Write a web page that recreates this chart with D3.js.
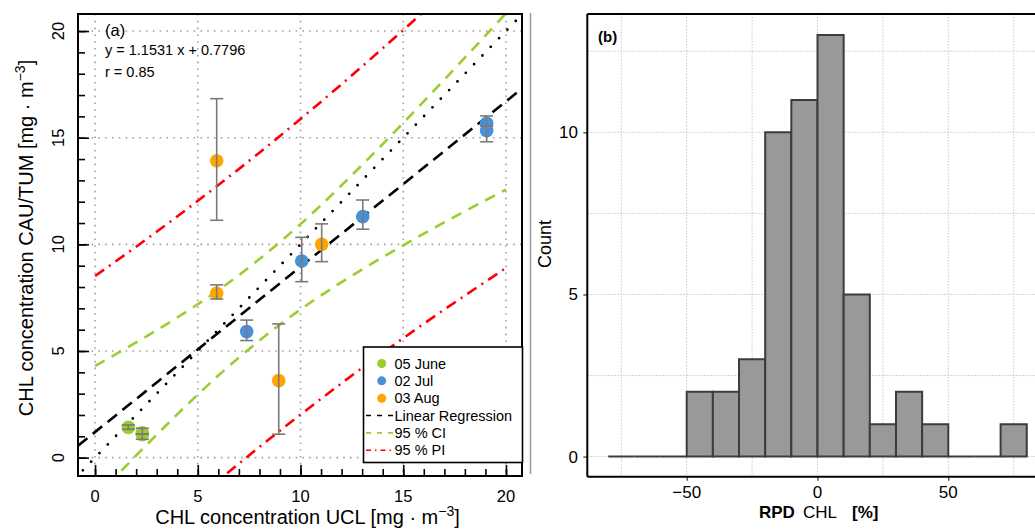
<!DOCTYPE html>
<html><head><meta charset="utf-8">
<script src="https://cdn.jsdelivr.net/npm/d3@7"></script>
<style>
body{margin:0;background:#fff;}
svg{display:block;font-family:"Liberation Sans",Arial,Helvetica,sans-serif;}
</style>
</head><body>
<svg id="c" width="1035" height="530"></svg>
<script>
// ---------- Panel (a) data ----------
const seriesNames = ["05 June", "02 Jul", "03 Aug"];
const seriesColors = ["#9acd32", "#4a90d9", "#ffa500"];
const juneX  = [1.62, 2.30, 2.30];
const juneY  = [1.42, 1.16, 1.08];
const juneLo = [1.33, 1.11, 0.86];
const juneHi = [1.53, 1.38, 1.11];
const julX  = [7.38, 10.06, 13.03, 19.06, 19.06];
const julY  = [5.91, 9.22, 11.30, 15.68, 15.33];
const julLo = [5.49, 8.25, 10.71, 15.55, 14.81];
const julHi = [6.45, 10.33, 12.08, 16.02, 15.55];
const augX  = [5.92, 5.92, 11.03, 8.94];
const augY  = [13.92, 7.71, 10.00, 3.61];
const augLo = [11.13, 7.44, 9.19, 1.10];
const augHi = [16.83, 8.10, 10.96, 6.27];
const regSlope = 0.775, regIntercept = 1.2;        // drawn regression line
const oneToOne = [[-1, -1], [21, 21]];
const bandX   = [0, 2, 4, 6, 8, 10, 12, 14, 16, 18, 20];
const ciUpper = [4.30, 5.40, 6.57, 7.85, 9.31, 10.95, 12.77, 14.70, 16.70, 18.75, 20.83];
const ciLower = [-1.90, 0.10, 2.03, 3.85, 5.49, 6.95, 8.23, 9.40, 10.50, 11.55, 12.57];
const piUpper = [8.52, 9.89, 11.31, 12.78, 14.30, 15.88, 17.51, 19.19, 20.92, 22.70, 24.51];
const piLower = [-6.12, -4.39, -2.71, -1.08, 0.50, 2.02, 3.49, 4.91, 6.28, 7.60, 8.89];
const xTicksA = [0, 5, 10, 15, 20];
const yTicksA = [0, 5, 10, 15, 20];
const minorTicksA = d3.range(0, 21, 1);
const eqText = "y = 1.1531 x + 0.7796";
const rText = "r = 0.85";
const legendLines = ["Linear Regression", "95 % CI", "95 % PI"];

// ---------- Panel (b) data ----------
const binStart = [-80, -70, -60, -50, -40, -30, -20, -10, 0, 10, 20, 30, 40, 50, 60, 70];
const counts   = [0, 0, 0, 2, 2, 3, 10, 11, 13, 5, 1, 2, 1, 0, 0, 1];
const binWidth = 10;
const xTicksB = [-50, 0, 50];
const yTicksB = [0, 5, 10];
const xGridB = [-75, -50, -25, 0, 25, 50, 75];
const yGridB = [0, 2.5, 5, 7.5, 10, 12.5];

const svg = d3.select("#c");

// ================= Panel (a) =================
const A = {l: 78, r: 522, t: 14, b: 476};
const xa = d3.scaleLinear().domain([-0.83, 20.78]).range([A.l, A.r]);
const ya = d3.scaleLinear().domain([-0.86, 20.80]).range([A.b, A.t]);

svg.append("defs").append("clipPath").attr("id", "clipA")
  .append("rect").attr("x", A.l).attr("y", A.t).attr("width", A.r - A.l).attr("height", A.b - A.t);

const ga = svg.append("g");
// grid
ga.append("g").selectAll("line").data(xTicksA).join("line")
  .attr("x1", d => xa(d)).attr("x2", d => xa(d)).attr("y1", A.t).attr("y2", A.b)
  .attr("stroke", "#a0a0a0").attr("stroke-width", 1.6).attr("stroke-dasharray", "1.6,5.2");
ga.append("g").selectAll("line").data(yTicksA).join("line")
  .attr("y1", d => ya(d)).attr("y2", d => ya(d)).attr("x1", A.l).attr("x2", A.r)
  .attr("stroke", "#a0a0a0").attr("stroke-width", 1.6).attr("stroke-dasharray", "1.6,5.2");

const plotA = ga.append("g").attr("clip-path", "url(#clipA)");
const lineA = d3.line().x(d => xa(d[0])).y(d => ya(d[1])).curve(d3.curveMonotoneX);

function band(arr) { return bandX.map((x, i) => [x, arr[i]]); }
// PI
[piUpper, piLower].forEach(a => plotA.append("path").datum(band(a)).attr("d", lineA)
  .attr("fill", "none").attr("stroke", "#ff0000").attr("stroke-width", 2.6)
  .attr("stroke-dasharray", "11,6,2,6"));
// CI
[ciUpper, ciLower].forEach(a => plotA.append("path").datum(band(a)).attr("d", lineA)
  .attr("fill", "none").attr("stroke", "#9acd32").attr("stroke-width", 2.6)
  .attr("stroke-dasharray", "11,8"));
// regression
const xd = xa.domain();
plotA.append("path").datum([[xd[0], regIntercept + regSlope * xd[0]], [xd[1], regIntercept + regSlope * xd[1]]])
  .attr("d", d3.line().x(d => xa(d[0])).y(d => ya(d[1])))
  .attr("fill", "none").attr("stroke", "#000").attr("stroke-width", 2.6).attr("stroke-dasharray", "12,7");
// 1:1
plotA.append("path").datum(oneToOne)
  .attr("d", d3.line().x(d => xa(d[0])).y(d => ya(d[1])))
  .attr("fill", "none").attr("stroke", "#000").attr("stroke-width", 2.8)
  .attr("stroke-linecap", "round").attr("stroke-dasharray", "0,12");

// points + error bars
const groups = [
  {x: juneX, y: juneY, lo: juneLo, hi: juneHi, c: seriesColors[0]},
  {x: julX, y: julY, lo: julLo, hi: julHi, c: seriesColors[1]},
  {x: augX, y: augY, lo: augLo, hi: augHi, c: seriesColors[2]}
];
groups.forEach(g => {
  const pts = g.x.map((x, i) => ({x, y: g.y[i], lo: g.lo[i], hi: g.hi[i]}));
  plotA.append("g").selectAll("circle").data(pts).join("circle")
    .attr("cx", d => xa(d.x)).attr("cy", d => ya(d.y)).attr("r", 6.8).attr("fill", g.c);
});
groups.forEach(g => {
  const pts = g.x.map((x, i) => ({x, y: g.y[i], lo: g.lo[i], hi: g.hi[i]}));
  const eb = plotA.append("g").attr("stroke", "#7a7a7a").attr("stroke-width", 1.6);
  eb.selectAll(".v").data(pts).join("line")
    .attr("x1", d => xa(d.x)).attr("x2", d => xa(d.x)).attr("y1", d => ya(d.lo)).attr("y2", d => ya(d.hi));
  eb.selectAll(".lo").data(pts).join("line")
    .attr("x1", d => xa(d.x) - 6.5).attr("x2", d => xa(d.x) + 6.5).attr("y1", d => ya(d.lo)).attr("y2", d => ya(d.lo));
  eb.selectAll(".hi").data(pts).join("line")
    .attr("x1", d => xa(d.x) - 6.5).attr("x2", d => xa(d.x) + 6.5).attr("y1", d => ya(d.hi)).attr("y2", d => ya(d.hi));
});

// ticks (inward)
const axA = ga.append("g").attr("transform", `translate(0,${A.b})`);
axA.call(d3.axisBottom(xa).tickValues(minorTicksA).tickSize(-7).tickFormat(""));
axA.append("g").call(d3.axisBottom(xa).tickValues(xTicksA).tickSize(-11).tickFormat(""));
const ayA = ga.append("g").attr("transform", `translate(${A.l},0)`);
ayA.call(d3.axisLeft(ya).tickValues(minorTicksA).tickSize(-7).tickFormat(""));
ayA.append("g").call(d3.axisLeft(ya).tickValues(yTicksA).tickSize(-11).tickFormat(""));
ga.selectAll(".domain").remove();
ga.selectAll(".tick line").attr("stroke", "#000").attr("stroke-width", 1.6);

// frame
ga.append("rect").attr("x", A.l).attr("y", A.t).attr("width", A.r - A.l).attr("height", A.b - A.t)
  .attr("fill", "none").attr("stroke", "#000").attr("stroke-width", 2);

// tick labels
ga.append("g").selectAll("text").data(xTicksA).join("text")
  .attr("x", d => xa(d)).attr("y", 502).attr("text-anchor", "middle")
  .attr("font-size", 16.5).text(d => d);
ga.append("g").selectAll("text").data(yTicksA).join("text")
  .attr("transform", d => `translate(63.5,${ya(d)}) rotate(-90)`).attr("text-anchor", "middle")
  .attr("font-size", 16.5).text(d => d);

// axis titles
function unitTitle(sel, main) {
  sel.append("tspan").text(main + " [mg  \u00b7 m");
  sel.append("tspan").attr("dy", -8).attr("font-size", 14).text("\u22123");
  sel.append("tspan").attr("dy", 8).text("]");
}
const xt = ga.append("text").attr("x", 307.5).attr("y", 523.5).attr("text-anchor", "middle").attr("font-size", 20);
unitTitle(xt, "CHL concentration UCL");
const yt = ga.append("text").attr("transform", "translate(33,238) rotate(-90)").attr("text-anchor", "middle").attr("font-size", 20);
unitTitle(yt, "CHL concentration CAU/TUM");

// annotations
ga.append("text").attr("x", 105).attr("y", 36).attr("font-size", 16.5).text("(a)");
ga.append("text").attr("x", 105).attr("y", 55).attr("font-size", 14.5).text(eqText);
ga.append("text").attr("x", 105).attr("y", 77).attr("font-size", 14.5).text(rText);

// legend
const L = {x: 363.5, y: 347, w: 159, h: 115.5};
const lg = ga.append("g");
lg.append("rect").attr("x", L.x).attr("y", L.y).attr("width", L.w).attr("height", L.h)
  .attr("fill", "#fff").attr("stroke", "#000").attr("stroke-width", 1.6);
const rowY = i => 363.5 + i * 17.35;
seriesNames.forEach((n, i) => {
  lg.append("circle").attr("cx", 381.7).attr("cy", rowY(i)).attr("r", 4.5).attr("fill", seriesColors[i]);
  lg.append("text").attr("x", 394.5).attr("y", rowY(i) + 5).attr("font-size", 14.5).text(n);
});
const legStyles = [
  {c: "#000", d: "5,6"},
  {c: "#9acd32", d: "5,6"},
  {c: "#ff0000", d: "5,4,1.5,4"}
];
legendLines.forEach((n, j) => {
  const i = j + 3;
  lg.append("line").attr("x1", 366).attr("x2", 394).attr("y1", rowY(i)).attr("y2", rowY(i))
    .attr("stroke", legStyles[j].c).attr("stroke-width", 1.6).attr("stroke-dasharray", legStyles[j].d);
  lg.append("text").attr("x", 394.5).attr("y", rowY(i) + 5).attr("font-size", 14.5).text(n);
});

// separator line
svg.append("line").attr("x1", 530.5).attr("x2", 530.5).attr("y1", 13).attr("y2", 474)
  .attr("stroke", "#9a9a9a").attr("stroke-width", 1.5);

// ================= Panel (b) =================
const B = {l: 587.3, r: 1047.7, t: 14, b: 476.7};
const xb = d3.scaleLinear().domain([-88, 88]).range([B.l, B.r]);
const yb = d3.scaleLinear().domain([-0.62, 13.65]).range([B.b, B.t]);
const gb = svg.append("g");

gb.append("g").selectAll("line").data(xGridB).join("line")
  .attr("x1", d => xb(d)).attr("x2", d => xb(d)).attr("y1", B.t).attr("y2", B.b)
  .attr("stroke", "#c8c8c8").attr("stroke-width", 1).attr("stroke-dasharray", "1.5,1.5");
gb.append("g").selectAll("line").data(yGridB).join("line")
  .attr("y1", d => yb(d)).attr("y2", d => yb(d)).attr("x1", B.l).attr("x2", B.r)
  .attr("stroke", "#c8c8c8").attr("stroke-width", 1).attr("stroke-dasharray", "1.5,1.5");

const bins = binStart.map((s, i) => ({s, n: counts[i]}));
gb.append("g").selectAll("path").data(bins).join("path")
  .attr("d", d => {
    const x0 = xb(d.s), x1 = xb(d.s + binWidth), y0 = yb(0), y1 = yb(d.n);
    return `M${x0},${y0}V${y1}H${x1}V${y0}Z`;
  })
  .attr("fill", "#999999").attr("stroke", "#3c3c3c").attr("stroke-width", 2)
  .attr("stroke-linejoin", "miter");

// axes
gb.append("g").attr("transform", `translate(0,${B.b})`)
  .call(d3.axisBottom(xb).tickValues(xTicksB).tickSize(4).tickFormat(""));
gb.append("g").attr("transform", `translate(${B.l},0)`)
  .call(d3.axisLeft(yb).tickValues(yTicksB).tickSize(4).tickFormat(""));
gb.selectAll(".domain").remove();
gb.selectAll(".tick line").attr("stroke", "#333").attr("stroke-width", 1.2);
gb.append("line").attr("x1", B.l).attr("x2", B.l).attr("y1", B.t).attr("y2", B.b).attr("stroke", "#000").attr("stroke-width", 2);
gb.append("line").attr("x1", B.l).attr("x2", 1035).attr("y1", B.b).attr("y2", B.b).attr("stroke", "#000").attr("stroke-width", 2);
gb.append("line").attr("x1", B.l).attr("x2", 1035).attr("y1", B.t).attr("y2", B.t).attr("stroke", "#000").attr("stroke-width", 2);

gb.append("g").selectAll("text").data(xTicksB).join("text")
  .attr("x", d => xb(d)).attr("y", 498).attr("text-anchor", "middle").attr("font-size", 17)
  .text(d => d < 0 ? "\u2212" + Math.abs(d) : d);
gb.append("g").selectAll("text").data(yTicksB).join("text")
  .attr("x", 578).attr("y", d => yb(d) + 6).attr("text-anchor", "end").attr("font-size", 17).text(d => d);

gb.append("text").attr("transform", "translate(550.5,244) rotate(-90)").attr("text-anchor", "middle")
  .attr("font-size", 18).text("Count");
const xtb = gb.append("text").attr("y", 518).attr("font-size", 17);
xtb.append("tspan").attr("x", 759).attr("font-weight", "bold").text("RPD");
xtb.append("tspan").attr("x", 803).text("CHL");
xtb.append("tspan").attr("x", 852).attr("font-weight", "bold").text("[%]");
gb.append("text").attr("x", 598).attr("y", 42).attr("font-size", 15).attr("font-weight", "bold").text("(b)");
</script>
</body></html>
